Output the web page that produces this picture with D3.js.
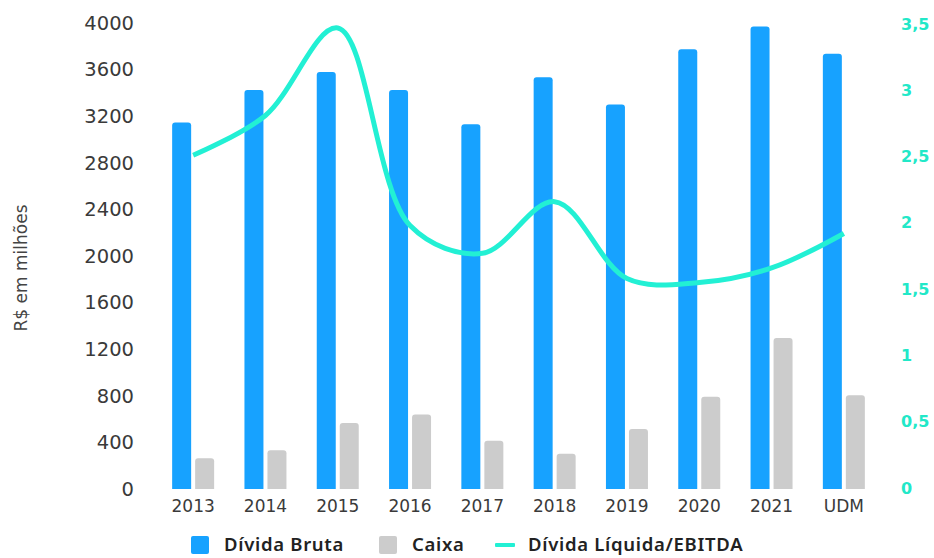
<!DOCTYPE html>
<html>
<head>
<meta charset="utf-8">
<script src="https://cdn.jsdelivr.net/npm/d3@7"></script>
<style>
  html, body { margin: 0; padding: 0; background: #fff; }
  svg { display: block; }
</style>
</head>
<body>
<svg id="chart" width="934" height="558"></svg>
<script>
// Categories and series
const categories = ["2013", "2014", "2015", "2016", "2017", "2018", "2019", "2020", "2021", "UDM"];
const dividaBruta = [3145, 3425, 3580, 3425, 3130, 3535, 3300, 3775, 3970, 3735];
const caixa = [264, 333, 567, 639, 415, 303, 515, 792, 1296, 804];
const dividaLiquidaEbitda = [2.51, 2.81, 3.47, 1.98, 1.77, 2.16, 1.58, 1.55, 1.66, 1.92];

// Axis ticks
const leftTicks = [0, 400, 800, 1200, 1600, 2000, 2400, 2800, 3200, 3600, 4000];
const rightTicks = [0, 0.5, 1, 1.5, 2, 2.5, 3, 3.5];

const colors = { bruta: "#17A2FF", caixa: "#CCCCCC", line: "#22F0D4", rightText: "#22E8C8" };

const svg = d3.select("#chart");

const x = d3.scaleBand().domain(categories).range([157, 880]).paddingInner(0).paddingOuter(0);
const xSub = d3.scaleBand().domain(["bruta", "caixa"]).range([-21, 21]).paddingInner(0.174);
const yLeft = d3.scaleLinear().domain([0, 4000]).range([489, 23]);
const yRight = d3.scaleLinear().domain([0, 3.5]).range([488, 24]);

// Rounded-top bar path
function barPath(x0, w, yTop, yBase, r) {
  r = Math.min(r, w / 2, Math.max(0, yBase - yTop));
  return `M${x0},${yBase}V${yTop + r}Q${x0},${yTop} ${x0 + r},${yTop}H${x0 + w - r}Q${x0 + w},${yTop} ${x0 + w},${yTop + r}V${yBase}Z`;
}

// Left axis
const leftAxis = d3.axisLeft(yLeft).tickValues(leftTicks).tickSize(0).tickPadding(0).tickFormat(d3.format("d"));
const gL = svg.append("g").attr("transform", "translate(134,0)").call(leftAxis);
gL.select(".domain").remove();
gL.selectAll("text").attr("font-family", "'DejaVu Sans', sans-serif").attr("font-size", 19.5).attr("fill", "#3a3a3a");

// Right axis
const rightAxis = d3.axisRight(yRight).tickValues(rightTicks).tickSize(0).tickPadding(0)
  .tickFormat(d => String(d).replace(".", ","));
const gR = svg.append("g").attr("transform", "translate(901,0)").call(rightAxis);
gR.select(".domain").remove();
gR.selectAll("text").attr("font-family", "'DejaVu Sans', sans-serif").attr("font-size", 16)
  .attr("font-weight", "bold").attr("fill", colors.rightText);

// Bottom axis
const bottomAxis = d3.axisBottom(x).tickSize(0).tickPadding(0);
const gB = svg.append("g").attr("transform", "translate(0,500)").call(bottomAxis);
gB.select(".domain").remove();
gB.selectAll("text").attr("font-family", "'DejaVu Sans', sans-serif").attr("font-size", 17).attr("fill", "#3a3a3a");

// Axis title
svg.append("text")
  .attr("transform", "translate(27,268) rotate(-90)")
  .attr("text-anchor", "middle")
  .attr("font-family", "'DejaVu Sans', sans-serif")
  .attr("font-size", 17)
  .attr("fill", "#444")
  .text("R$ em milhões");

// Bars
const groups = svg.append("g").selectAll("g").data(categories).join("g")
  .attr("transform", d => `translate(${x(d) + x.bandwidth() / 2},0)`);

groups.append("path")
  .attr("fill", colors.bruta)
  .attr("d", (d, i) => barPath(xSub("bruta"), xSub.bandwidth(), yLeft(dividaBruta[i]), yLeft(0), 3));

groups.append("path")
  .attr("fill", colors.caixa)
  .attr("d", (d, i) => barPath(xSub("caixa"), xSub.bandwidth(), yLeft(caixa[i]), yLeft(0), 3));

// Line: Dívida Líquida / EBITDA
const line = d3.line()
  .x((d, i) => x(categories[i]) + x.bandwidth() / 2)
  .y(d => yRight(d))
  .curve(d3.curveCatmullRom.alpha(0.5));

svg.append("path")
  .datum(dividaLiquidaEbitda)
  .attr("fill", "none")
  .attr("stroke", colors.line)
  .attr("stroke-width", 5)
  .attr("d", line);

// Legend
const legend = svg.append("g").attr("transform", "translate(0,545)")
  .attr("font-family", "'Noto Sans', sans-serif").attr("font-size", 18.5).attr("font-weight", 600)
  .attr("letter-spacing", 0.7).attr("fill", "#222");

legend.append("rect").attr("x", 191).attr("y", -9).attr("width", 18).attr("height", 18).attr("rx", 2).attr("fill", colors.bruta);
legend.append("text").attr("x", 224).attr("dy", "0.35em").text("Dívida Bruta");
legend.append("rect").attr("x", 379).attr("y", -9).attr("width", 18).attr("height", 18).attr("rx", 2).attr("fill", colors.caixa);
legend.append("text").attr("x", 412).attr("dy", "0.35em").text("Caixa");
legend.append("rect").attr("x", 495).attr("y", -2).attr("width", 20).attr("height", 4).attr("rx", 1).attr("fill", colors.line);
legend.append("text").attr("x", 528).attr("dy", "0.35em").text("Dívida Líquida/EBITDA");
</script>
</body>
</html>
